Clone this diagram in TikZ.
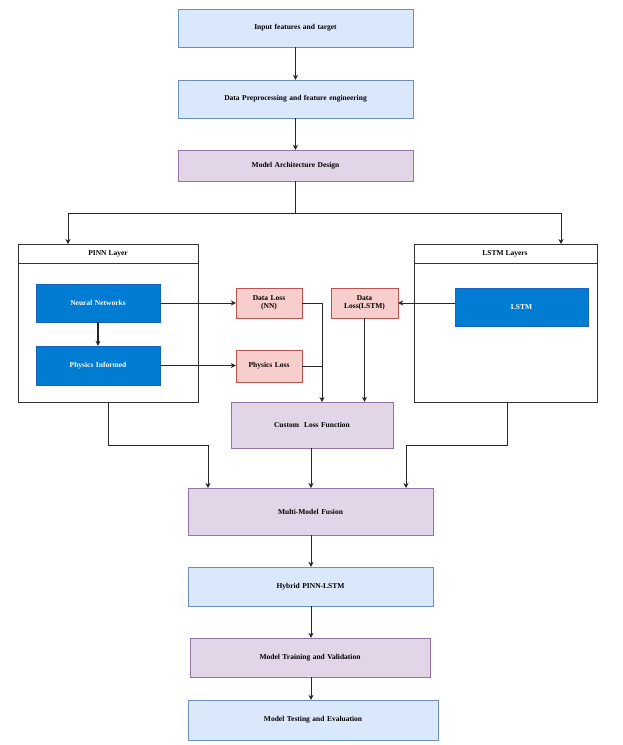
\documentclass[tikz,border=0pt]{standalone}
\usepackage{fontspec}
\setmainfont{Liberation Serif}
\usetikzlibrary{arrows.meta}
\definecolor{bfill}{HTML}{DAE8FC}\definecolor{bline}{HTML}{6C8EBF}
\definecolor{pfill}{HTML}{E1D5E7}\definecolor{pline}{HTML}{9673A6}
\definecolor{rfill}{HTML}{F8CECC}\definecolor{rline}{HTML}{B85450}
\definecolor{dblue}{HTML}{007CD3}\definecolor{dline}{HTML}{1565C0}
\begin{document}
\begin{tikzpicture}[x=1pt,y=-1pt,
 lbl/.style={font=\fontsize{7.5}{8.5}\selectfont\bfseries,align=center},
 bx/.style={draw=#1line,fill=#1fill,lbl,inner sep=0},
 dk/.style={draw=dline,fill=dblue,text=white,lbl,inner sep=0},
 ar/.style={draw=black!85,line width=0.7pt,-{Stealth[length=5pt,width=5pt]}},
 cont/.style={draw=black!80,line width=0.8pt,fill=white}]
\useasboundingbox (0,0) rectangle (622,745);
\newcommand{\bxat}[5]{\node[#1,minimum width=#4-#2,minimum height=#5-#3,text width=#4-#2-4] at ({(#2+#4)/2},{(#3+#5)/2})}
\bxat{bx=b}{178}{9}{413}{47} (inp) {Input features and target};
\bxat{bx=b}{178}{80}{413}{118} (prep) {Data Preprocessing and feature engineering};
\bxat{bx=p}{178}{150}{413}{181} (arch) {Model Architecture Design};
% containers
\draw[cont] (18,244) rectangle (198,402); \draw[black!80,line width=0.8pt] (18,263)--(198,263);
\node[lbl] (pinn) at (108,253.5) {PINN Layer};
\draw[cont] (414,244) rectangle (597,402); \draw[black!80,line width=0.8pt] (414,263)--(597,263);
\node[lbl] (lstml) at (505,253.5) {LSTM Layers};
\coordinate (pinnT) at (68,244); \coordinate (lstmT) at (561,244);
\coordinate (pinnB) at (108,402); \coordinate (lstmB) at (507,402);
\bxat{dk}{36}{284}{160}{322} (nn) {Neural Networks};
\bxat{dk}{36}{346}{160}{385} (pi) {Physics Informed};
\bxat{dk}{455}{288}{588}{326} (lstm) {LSTM};
\bxat{bx=r}{236}{288}{302}{318} (dlnn) {Data Loss\\(NN)};
\bxat{bx=r}{236}{350}{302}{382} (pl) {Physics Loss};
\bxat{bx=r}{331}{288}{398}{318} (dll) {Data\\Loss(LSTM)};
\bxat{bx=p}{231}{402}{393}{448} (cl) {Custom\ \ Loss Function};
\bxat{bx=p}{188}{488}{433}{535} (mmf) {Multi-Model Fusion};
\bxat{bx=b}{188}{567}{433}{606} (hyb) {Hybrid PINN-LSTM};
\bxat{bx=p}{190}{638}{430}{677} (tr) {Model Training and Validation};
\bxat{bx=b}{188}{700}{438}{740} (te) {Model Testing and Evaluation};
\draw[ar] (inp) -- (prep);
\draw[ar] (prep) -- (arch);
\draw[ar] (arch.south) -- ++(0,32) -| (pinnT);
\draw[ar] (arch.south) -- ++(0,32) -| (lstmT);
\draw[ar] (nn.east) -- (dlnn.west |- nn.east);
\draw[ar,line width=1.2pt] (nn) -- (pi);
\draw[ar] (pi.east) -- (pl.west |- pi.east);
\draw[ar] (lstm.west |- dll.east) -- (dll.east);
\draw[ar] (dlnn.east) -| (322,402);
\draw[black!85,line width=0.7pt] (pl.east) -- (322,366);
\draw[ar] (dll.south) -- (dll.south |- cl.north);
\draw[ar] (pinnB) -- (108,445) -| (208,488);
\draw[ar] (lstmB) -- (507,445) -| (406,488);
\draw[ar] (cl.south -| 311,0) -- (311,488);
\draw[ar] (mmf.south -| 311,0) -- (hyb.north -| 311,0);
\draw[ar] (hyb.south -| 311,0) -- (tr.north -| 311,0);
\draw[ar] (tr.south -| 311,0) -- (te.north -| 311,0);
\end{tikzpicture}
\end{document}
